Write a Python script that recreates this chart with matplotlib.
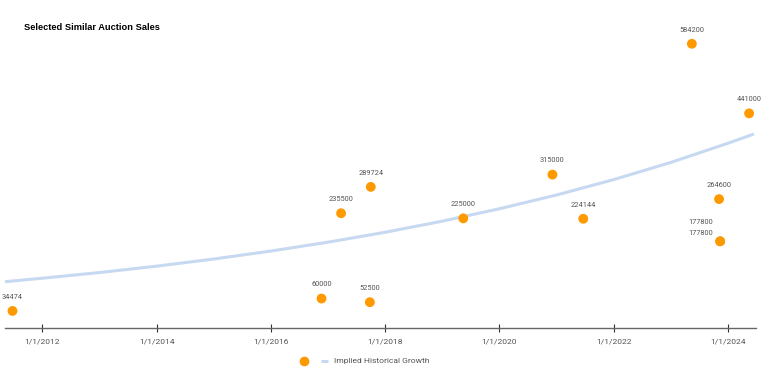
import matplotlib
matplotlib.use("Agg")
import matplotlib.pyplot as plt
import matplotlib.dates as mdates
from matplotlib.lines import Line2D
import pandas as pd

# ---- data ----
sale_dates = ["2011-06-25", "2016-11-20", "2017-03-25", "2017-09-25", "2017-10-01",
              "2019-05-15", "2020-12-05", "2021-06-20", "2023-05-15", "2023-11-05",
              "2023-11-12", "2023-11-12", "2024-05-15"]
sale_prices = [34474, 60000, 235500, 52500, 289724,
               225000, 315000, 224144, 584200, 264600,
               177800, 177800, 441000]

trend_dates = ["2011-05-08", "2012-01-01", "2013-01-01", "2014-01-01", "2015-01-01",
               "2016-01-01", "2017-01-01", "2018-01-01", "2019-01-01", "2020-01-01",
               "2021-01-01", "2022-01-01", "2023-01-01", "2024-01-01", "2024-06-15"]
trend_values = [94650, 101800, 113500, 126600, 141300,
                157700, 176000, 196400, 219200, 244700,
                273100, 304800, 340100, 379600, 398500]

tick_dates = ["2012-01-01", "2014-01-01", "2016-01-01", "2018-01-01",
              "2020-01-01", "2022-01-01", "2024-01-01"]
tick_labels = ["1/1/2012", "1/1/2014", "1/1/2016", "1/1/2018",
               "1/1/2020", "1/1/2022", "1/1/2024"]

title = "Selected Similar Auction Sales"
trend_label = "Implied Historical Growth"

# ---- style ----
W, H = 768, 372
ORANGE = "#FF9900"
TREND = "#C6D9F1"
GRAY = "#555555"

fig = plt.figure(figsize=(W / 100, H / 100), dpi=100)
ax = fig.add_axes([5 / W, 1 - 327.7 / H, (756 - 5) / W, (327.7 - 36.1) / H])

sd = pd.to_datetime(sale_dates)
td = pd.to_datetime(trend_dates)

ax.plot(td, trend_values, color=TREND, lw=2.2, solid_capstyle="butt", zorder=2)
ax.scatter(sd, sale_prices, s=50, color=ORANGE, edgecolors="none", zorder=3)

# data labels
seen = {}
for d, v in zip(sd, sale_prices):
    n = seen.get(v, 0)
    seen[v] = n + 1
    if sale_prices.count(v) > 1:
        off = (-13.7, 5.8 + 7.7 * n)
    else:
        off = (0, 9.8)
    ax.annotate(str(v), (d, v), xytext=off, textcoords="offset points",
                ha="center", va="center", fontsize=5.3, color=GRAY,
                family=["Roboto", "DejaVu Sans"])

ax.set_xlim(pd.Timestamp("2011-05-08"), pd.Timestamp("2024-06-28"))
ax.set_ylim(0, 600000)

for s in ["top", "right", "left"]:
    ax.spines[s].set_visible(False)
ax.spines["bottom"].set_color("#666666")
ax.spines["bottom"].set_linewidth(1.0)
ax.set_yticks([])
ax.set_xticks(pd.to_datetime(tick_dates))
ax.set_xticklabels(tick_labels, fontsize=6.1, color=GRAY, family=["Roboto", "DejaVu Sans"])
ax.tick_params(axis="x", direction="inout", length=5.5, width=0.8, color="#333333", pad=5)

fig.text(24 / W, 1 - 27 / H, title, fontsize=6.7, fontweight="bold",
         family=["Liberation Sans", "DejaVu Sans"], va="center", ha="left", color="black")

# legend
ly = 1 - 360.7 / H
fig.add_artist(Line2D([304 / W], [ly], marker="o", markersize=7, color=ORANGE,
                      markeredgewidth=0, transform=fig.transFigure))
fig.add_artist(Line2D([320.5 / W, 328 / W], [ly, ly], color=TREND, lw=2.2,
                      solid_capstyle="butt", transform=fig.transFigure))
fig.text(334 / W, ly, trend_label, fontsize=6.1, color=GRAY, va="center", ha="left",
         family=["Roboto", "DejaVu Sans"])

fig.savefig("out.png", dpi=100)
